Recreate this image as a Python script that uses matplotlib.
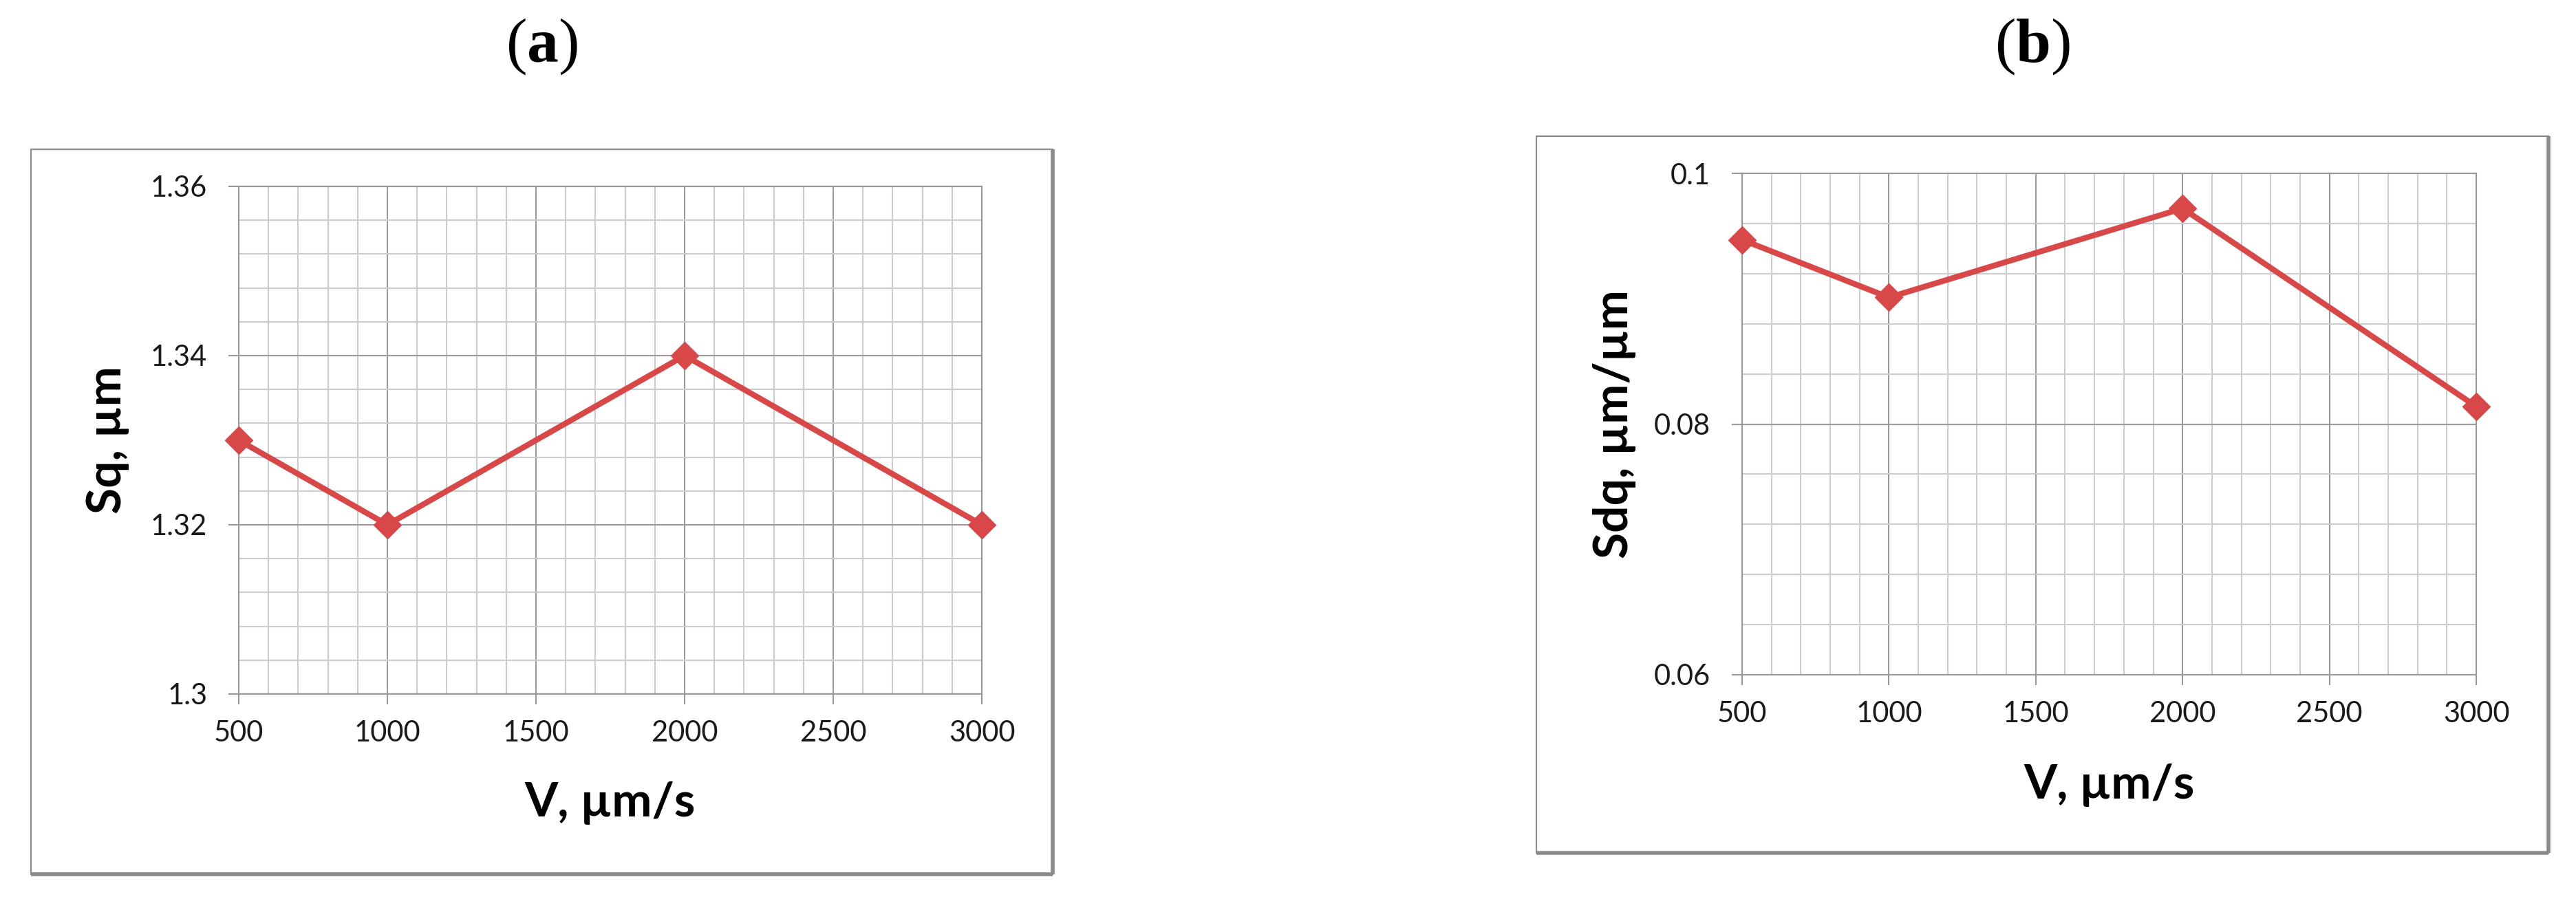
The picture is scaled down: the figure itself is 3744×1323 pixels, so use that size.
import matplotlib
matplotlib.use('Agg')
import matplotlib.pyplot as plt
from matplotlib.patches import Rectangle
from matplotlib.lines import Line2D
from matplotlib.ticker import MultipleLocator

# data
speed = [500, 1000, 2000, 3000]          # V, um/s
sq_vals = [1.33, 1.32, 1.34, 1.32]       # Sq, um
sdq_vals = [0.0947, 0.0901, 0.0972, 0.0814]  # Sdq, um/um

x_ticks = [500, 1000, 1500, 2000, 2500, 3000]
x_ticklabels = ['500', '1000', '1500', '2000', '2500', '3000']
sq_ticks = [1.30, 1.32, 1.34, 1.36]
sq_ticklabels = ['1.3', '1.32', '1.34', '1.36']
sdq_ticks = [0.06, 0.08, 0.10]
sdq_ticklabels = ['0.06', '0.08', '0.1']

RED = '#d94848'
MAJOR = '#999999'
MINOR = '#cccccc'
FRAME = '#8a8a8a'

plt.rcParams['font.family'] = ['Lato', 'DejaVu Sans']
plt.rcParams['mathtext.fontset'] = 'custom'
plt.rcParams['mathtext.rm'] = 'Liberation Serif'
plt.rcParams['mathtext.bf'] = 'Liberation Serif:bold'

W, H = 3744, 1323
fig = plt.figure(figsize=(W / 100, H / 100), dpi=100)


def px_rect(x0, y0, x1, y1):
    # pixel box (top-left origin) -> figure fraction [l, b, w, h]
    return [x0 / W, 1 - y1 / H, (x1 - x0) / W, (y1 - y0) / H]


def frame(x0, y0, x1, y1):
    l, b, w, h = px_rect(x0, y0, x1, y1)
    fig.add_artist(Rectangle((l, b), w, h, transform=fig.transFigure,
                             fill=False, ec=FRAME, lw=1.6, zorder=0))
    # heavier shadow on right and bottom edges
    fig.add_artist(Line2D([l + w, l + w], [b, b + h], transform=fig.transFigure,
                          color=FRAME, lw=4, solid_capstyle='butt', zorder=0))
    fig.add_artist(Line2D([l, l + w], [b, b], transform=fig.transFigure,
                          color=FRAME, lw=4, solid_capstyle='butt', zorder=0))


def panel(rect, y, yticks, yticklabels, ylim, ymin_step, ylabel, ylab_x, xlab_y):
    ax = fig.add_axes(rect)
    ax.plot(speed, y, color=RED, lw=6, marker='D', ms=20, zorder=5, clip_on=False)
    ax.set_xlim(500, 3000)
    ax.set_ylim(*ylim)
    ax.set_xticks(x_ticks)
    ax.set_xticklabels(x_ticklabels)
    ax.set_yticks(yticks)
    ax.set_yticklabels(yticklabels)
    ax.xaxis.set_minor_locator(MultipleLocator(100))
    ax.yaxis.set_minor_locator(MultipleLocator(ymin_step))
    ax.grid(which='minor', color=MINOR, lw=1.5, zorder=0)
    ax.grid(which='major', color=MAJOR, lw=1.5, zorder=1)
    ax.set_axisbelow(True)
    for s in ax.spines.values():
        s.set_color(MAJOR)
        s.set_linewidth(1.5)
    ax.tick_params(which='major', direction='out', length=11, width=1.5,
                   color=MAJOR, labelsize=30, labelcolor='#1a1a1a')
    ax.tick_params(axis='y', pad=22)
    ax.tick_params(axis='x', pad=16)
    ax.tick_params(which='minor', length=0)
    ax.set_xlabel('V, µm/s', fontsize=50, fontweight='bold')
    ax.set_ylabel(ylabel, fontsize=50, fontweight='bold')
    ax.xaxis.set_label_coords(0.5, xlab_y)
    ax.yaxis.set_label_coords(ylab_x, 0.5)
    return ax


frame(45, 217, 1530, 1271)
frame(2233, 198, 3704, 1240)

panel(px_rect(347, 271, 1427, 1009), sq_vals, sq_ticks, sq_ticklabels,
      (1.30, 1.36), 0.004, 'Sq, µm', -0.147, -0.172)
panel(px_rect(2532, 252, 3599, 981), sdq_vals, sdq_ticks, sdq_ticklabels,
      (0.06, 0.10), 0.004, 'Sdq, µm/µm', -0.144, -0.177)

fig.text(787 / W, 1 - 68 / H, r'$\mathrm{(}\mathbf{a}\mathrm{)}$',
         fontsize=66, ha='center', va='center')
fig.text(2954 / W, 1 - 68 / H, r'$\mathrm{(}\mathbf{b}\mathrm{)}$',
         fontsize=66, ha='center', va='center')

fig.savefig('out.png', dpi=100, facecolor='white')
